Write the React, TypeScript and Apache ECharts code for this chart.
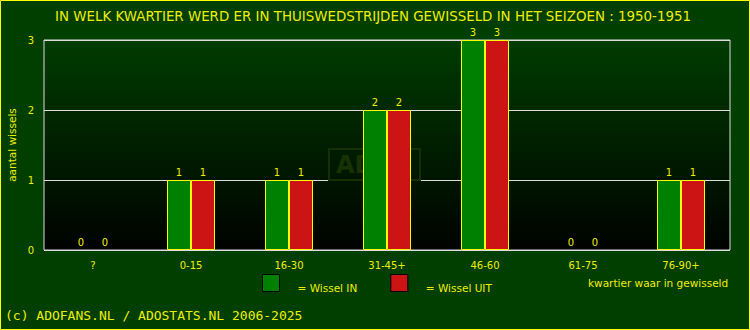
import React, { useEffect, useRef } from "react";
import * as echarts from "echarts";

const title = "IN WELK KWARTIER WERD ER IN THUISWEDSTRIJDEN GEWISSELD IN HET SEIZOEN : 1950-1951";
const categories = ["?", "0-15", "16-30", "31-45+", "46-60", "61-75", "76-90+"];
const wisselIn = [0, 1, 1, 2, 3, 0, 1];
const wisselUit = [0, 1, 1, 2, 3, 0, 1];
const yTicks = { min: 0, max: 3, interval: 1 };
const yName = "aantal wissels";
const xName = "kwartier waar in gewisseld";
const copyright = "(c) ADOFANS.NL / ADOSTATS.NL 2006-2025";

const YELLOW = "#eeee00";
const FONT = "DejaVu Sans";

const toItems = (arr: number[]) =>
  arr.map((v) => (v === 0 ? { value: v, itemStyle: { borderWidth: 0, opacity: 0 } } : { value: v }));

export default function App() {
  const ref = useRef<HTMLDivElement>(null);
  useEffect(() => {
    document.body.style.margin = "0";
    if (!ref.current) return;
    const chart = echarts.init(ref.current, undefined, { renderer: "svg" });
    const label = { show: true, position: "top", distance: 3, color: YELLOW, fontFamily: FONT, fontSize: 10 };
    chart.setOption({
      animation: false,
      backgroundColor: "#003f00",
      title: {
        text: title,
        left: 368,
        textAlign: "center",
        top: 5,
        textStyle: { color: YELLOW, fontFamily: FONT, fontSize: 13.4, fontWeight: "normal" },
      },
      grid: {
        left: 44,
        right: 20,
        top: 40,
        bottom: 80,
        outerBoundsMode: "none",
        containLabel: false,
        show: true,
        borderColor: "#dddddd",
        borderWidth: 1,
        backgroundColor: new echarts.graphic.LinearGradient(0, 0, 0, 1, [
          { offset: 0, color: "#003c00" },
          { offset: 1, color: "#000200" },
        ]),
      },
      legend: {
        left: 262,
        top: 274,
        padding: 0,
        itemWidth: 17,
        itemHeight: 17,
        itemGap: 33,
        icon: "rect",
        itemStyle: { borderColor: "#000000", borderWidth: 1, opacity: 1 },
        textStyle: {
          color: YELLOW,
          fontFamily: FONT,
          fontSize: 10.5,
          padding: [0, 0, 0, 13],
          rich: {
            t: { color: YELLOW, fontFamily: FONT, fontSize: 10.5, padding: [9, 0, 0, 0] },
          },
        },
        formatter: (n: string) => "{t|= " + n + "}",
        data: ["Wissel IN", "Wissel UIT"],
      },
      xAxis: {
        type: "category",
        data: categories,
        axisLine: { show: false },
        axisTick: { show: false },
        axisLabel: { color: YELLOW, fontFamily: FONT, fontSize: 10, margin: 10 },
      },
      yAxis: {
        type: "value",
        min: yTicks.min,
        max: yTicks.max,
        interval: yTicks.interval,
        name: yName,
        nameLocation: "middle",
        nameRotate: 90,
        nameGap: 27,
        nameMoveOverlap: false,
        nameTextStyle: { color: YELLOW, fontFamily: FONT, fontSize: 10.5 },
        axisLine: { show: false },
        axisTick: { show: false },
        axisLabel: { color: YELLOW, fontFamily: FONT, fontSize: 10, margin: 10 },
        splitLine: { lineStyle: { color: "#dddddd", width: 1 } },
      },
      series: [
        {
          name: "Wissel IN",
          type: "bar",
          data: toItems(wisselIn),
          barWidth: 24,
          barGap: "0%",
          z: 5,
          itemStyle: { color: "#008000", borderColor: "#ffff00", borderWidth: 1 },
          label: { ...label, opacity: 1 },
        },
        {
          name: "Wissel UIT",
          type: "bar",
          data: toItems(wisselUit),
          barWidth: 24,
          z: 5,
          itemStyle: { color: "#cc1414", borderColor: "#ffff00", borderWidth: 1 },
          label: { ...label, opacity: 1 },
        },
      ],
      graphic: [
        {
          type: "rect",
          z: 3,
          shape: { x: 329, y: 149, width: 91, height: 31 },
          style: { fill: "none", stroke: "#163004", lineWidth: 2 },
          silent: true,
        },
        {
          type: "text",
          z: 3,
          x: 336,
          y: 165,
          style: { text: "ADO", fill: "#183205", font: "bold 24px DejaVu Sans", textVerticalAlign: "middle" },
          silent: true,
        },
        {
          type: "text",
          x: 588,
          y: 283,
          style: { text: xName, fill: YELLOW, font: "10.5px DejaVu Sans", textVerticalAlign: "middle" },
        },
        {
          type: "text",
          x: 5,
          y: 315,
          style: { text: copyright, fill: YELLOW, font: "13px DejaVu Sans Mono", textVerticalAlign: "middle" },
        },
        {
          type: "rect",
          z: 10,
          shape: { x: 0.5, y: 0.5, width: 749, height: 329 },
          style: { fill: "none", stroke: "#ffff00", lineWidth: 1 },
          silent: true,
        },
      ],
    });
    return () => chart.dispose();
  }, []);
  return <div ref={ref} style={{ width: 750, height: 330, position: "absolute", left: 0, top: 0 }} />;
}
